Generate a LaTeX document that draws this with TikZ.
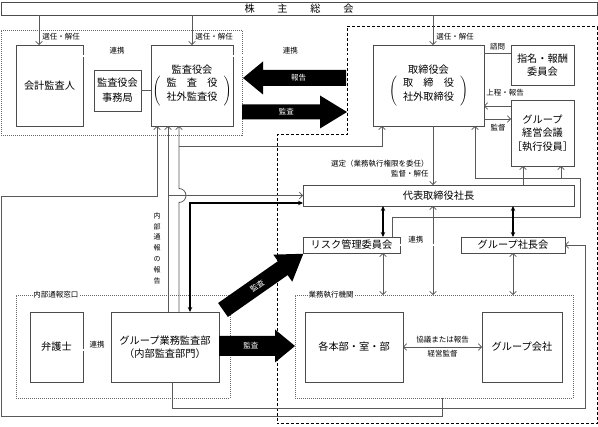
\documentclass[tikz,border=0pt]{standalone}
\usepackage{fontspec}
\setmainfont{Noto Sans CJK JP}
\usetikzlibrary{arrows.meta,calc}

\tikzset{
  box/.style={draw=black!70, line width=0.8pt, fill=white, inner sep=0.5pt,
    outer sep=0pt, align=center, font=\fontsize{10.2}{13.5}\selectfont},
  frame/.style={draw=black!60, line width=0.6pt, dash pattern=on 1pt off 1pt,
    inner sep=0pt, outer sep=0pt},
  lab/.style={font=\fontsize{7.5}{10}\selectfont, inner sep=1pt},
  blocktext/.style={text=white, font=\fontsize{7.5}{9}\selectfont, inner sep=0pt},
  conn/.style={draw=black!65, line width=0.8pt},
  arr/.style={conn, -{Straight Barb[length=3pt,width=6.5pt]}},
  darr/.style={conn, {Straight Barb[length=3pt,width=6.5pt]}-{Straight Barb[length=3pt,width=6.5pt]}},
  boldarr/.style={draw=black, line width=1.3pt, {Stealth[length=5pt,width=4.5pt]}-{Stealth[length=5pt,width=4.5pt]}},
  renkei/.style={draw=black!60, line width=0.5pt, double distance=1.6pt},
}

% black block arrow: name, tail, angle, length, body, head width, head length, text, text options
\newcommand{\blockarrow}[9]{%
  \begin{scope}[shift={#2}, rotate=#3]
    \fill ({0},{-#5/2}) -- ({#4-#7},{-#5/2}) -- ({#4-#7},{-#6/2}) -- ({#4},{0})
      -- ({#4-#7},{#6/2}) -- ({#4-#7},{#5/2}) -- ({0},{#5/2}) -- cycle;
    \node[blocktext, #9] (#1) at ({0.57*(#4-#7)},0) {#8};
  \end{scope}}

\begin{document}
\begin{tikzpicture}[x=1pt, y=-1pt]
\useasboundingbox (0,0) rectangle (598,427);

% Frames
\node[frame, minimum width=241pt, minimum height=105pt] (kansaframe) at (121.5,82.5) {};
\draw[line width=1pt, dash pattern=on 3pt off 2pt] (347,27) -| (597,424) -| (277,135) -| (347,27) -- cycle;
\node[frame, minimum width=214pt, minimum height=103pt] (tsuhoframe) at (123,346.5) {};
\node[frame, minimum width=278pt, minimum height=103pt] (gyomu) at (434,346.5) {};
\node[lab, fill=white] (tsuholab) at (56,295) {内部通報窓口};
\node[lab, fill=white] (gyomulab) at (331,295) {業務執行機関};

% Boxes
\node[box, minimum width=596pt, minimum height=13pt] (soukai) at (299,8.5)
  {\makebox[109pt][s]{株\hfill 主\hfill 総\hfill 会}};
\node[box, minimum width=67pt, minimum height=81pt] (kaikei) at (49.5,85.5) {会計監査人};
\node[box, minimum width=47pt, minimum height=41pt, font=\fontsize{10.2}{15}\selectfont] (jimu) at (117.5,90.5) {監査役会\\事務局};
\node[box, minimum width=82pt, minimum height=81pt] (kansa) at (192,85.5)
  {監査役会\\$\left(\begin{tabular}{c}\makebox[5em][s]{監\hfill 査\hfill 役}\\社外監査役\end{tabular}\right)$};
\node[box, minimum width=111pt, minimum height=81pt] (torishimari) at (428.5,85.5)
  {取締役会\\$\left(\begin{tabular}{c}\makebox[5em][s]{取\hfill 締\hfill 役}\\社外取締役\end{tabular}\right)$};
\node[box, minimum width=63pt, minimum height=40pt] (shimei) at (542.5,65) {指名・報酬\\委員会};
\node[box, minimum width=63pt, minimum height=66pt] (keiei) at (542.5,133) {グループ\\経営会議\\［執行役員］};
\node[box, minimum width=271pt, minimum height=21pt] (shacho) at (438.5,195.5) {代表取締役社長};
\node[box, minimum width=97pt, minimum height=16pt] (risk) at (351.5,245) {リスク管理委員会};
\node[box, minimum width=104pt, minimum height=16pt] (gshacho) at (513,245) {グループ社長会};
\node[box, minimum width=53pt, minimum height=70pt] (bengo) at (56.5,347) {弁護士};
\node[box, minimum width=108pt, minimum height=70pt] (kansabu) at (165,347) {グループ業務監査部\\（内部監査部門）};
\node[box, minimum width=98pt, minimum height=70pt] (honbu) at (354,347) {各本部・室・部};
\node[box, minimum width=80pt, minimum height=70pt] (gkaisha) at (522,347) {グループ会社};

% Appointments by the general meeting
\foreach \n/\dx in {kaikei/-10.5, kansa/0, torishimari/4.5}
  \draw[arr] ([xshift=\dx pt]\n.north |- soukai.south) -- ([xshift=\dx pt]\n.north)
    node[lab, pos=0.72, right=2pt] (sen\n) {選任・解任};

% Cooperation lines
\draw[renkei] ([yshift=-11pt]kaikei.north east) -- ([yshift=-11pt]kansa.north west)
  node[lab, midway, above=1pt] (renkeiA) {連携};
\draw[renkei] ([yshift=-11pt]kansa.north east) -- ([yshift=-11pt]torishimari.north west)
  node[lab, pos=0.41, above=1pt] (renkeiB) {連携};
\draw[conn] (jimu.east) -- (jimu.east -| kansa.west);

% Board and committees
\draw[conn] ([yshift=-8pt]torishimari.north east) -- ([yshift=-8pt]shimei.north west)
  node[lab, midway, above=1pt] (shimon) {諮問};
\draw[arr] ([yshift=-6pt]keiei.north west) -- ([yshift=-6pt]keiei.north west -| torishimari.east);
\node[lab] (jotei) at (505,93) {上程・報告};
\draw[arr] ([yshift=-19pt]keiei.north west -| torishimari.east) -- ([yshift=-19pt]keiei.north west);
\node[lab] (kantoku) at (498,128) {監督};
\draw[arr] ([xshift=4.5pt]torishimari.south) -- ([xshift=4.5pt]torishimari.south |- shacho.north)
  node[lab, pos=0.72, left=3pt, align=right] (sentei) {選定（業務執行権限を委任）\\監督・解任};

% Report and audit arrows
\blockarrow{houkoku}{(346,78)}{180}{103}{16}{33}{20}{報告}{}
\blockarrow{kansaA}{(242,112)}{0}{105}{15}{33}{27}{監査}{}
\blockarrow{kansaB}{(219,346)}{0}{76}{20}{33}{20}{監査}{}
\blockarrow{kansaC}{(223,310)}{35}{98}{17}{33}{25}{監査}{rotate=35}

% Internal audit department reporting lines
\coordinate (lineA) at ([xshift=3pt]kansabu.north);
\coordinate (lineB) at ([xshift=14pt]kansabu.north);
\coordinate (lineC) at ([xshift=25pt]kansabu.north);
\coordinate (hop) at ($(lineB |- shacho.west)+(0,7)$);
\coordinate (jTori) at (179,146);
\draw[arr] (lineA) -- (lineA |- kansa.south);
\draw[arr] (lineA |- shacho.west) -- (shacho.west);
\draw[arr] (lineB) -- (hop) arc[start angle=-90, end angle=90, radius=7pt] -- (lineB |- kansa.south);
\draw[arr] (jTori) -| ([xshift=9pt]torishimari.south west);
\draw[boldarr] (lineC) |- ([yshift=-7.5pt]shacho.west);
\node[lab, align=center, font=\fontsize{7}{10.8}\selectfont] (tsuhohoukoku) at (157,248) {内\\部\\通\\報\\の\\報\\告};

% Executive bodies to the auditors
\draw[arr] ([xshift=8pt]gyomu.south) -- ++(0,18) -| (1,196) -| ([xshift=-35pt]kansa.south);

% Risk committee reporting
\draw[arr] ([xshift=-8pt]risk.north east) |- (580,217) |- (475,178) -- ([xshift=-9pt]torishimari.south east);
\coordinate (jKeiei) at (561,178);
\draw[arr] (jKeiei) -- (jKeiei |- keiei.south);
\draw[arr] ([xshift=-19.5pt]keiei.south |- shacho.north) -- ([xshift=-19.5pt]keiei.south);

% President and committees
\draw[boldarr] ([xshift=31.5pt]risk.north) -- ([xshift=31.5pt]risk.north |- shacho.south);
\draw[boldarr] (gshacho.north) -- (gshacho.north |- shacho.south);
\foreach \n/\dx in {risk/31.5, shacho/-5.5, gshacho/0}
  \draw[darr] ([xshift=\dx pt]\n.south) -- ([xshift=\dx pt]\n.south |- gyomu.north);
\draw[renkei] (risk.east) -- (gshacho.west) node[lab, pos=0.26, above=1pt] (renkeiC) {連携};
\draw[arr] ([xshift=7pt]kansabu.south) |- (585,408) |- (gshacho.east);

% Bottom row
\draw[renkei] ([yshift=-3pt]bengo.east) -- ([yshift=-3pt]kansabu.west)
  node[lab, midway, above=1pt] (renkeiD) {連携};
\draw[darr] (honbu.east) -- (gkaisha.west)
  node[lab, midway, above=2pt] (kyogi) {協議または報告}
  node[lab, midway, below=2pt] (keieikansa) {経営監督};
\end{tikzpicture}
\end{document}
